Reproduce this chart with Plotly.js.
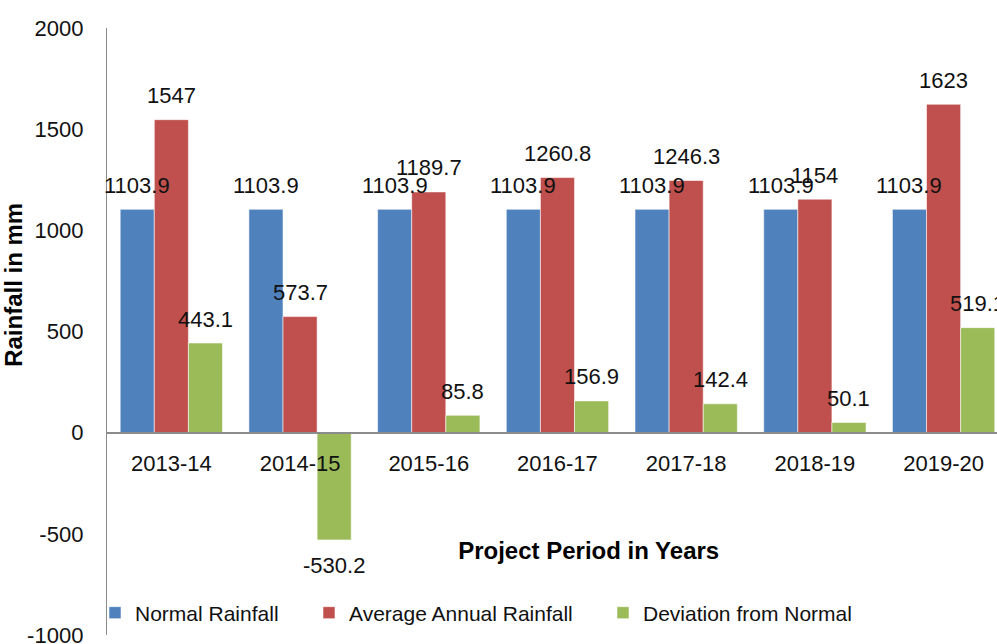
<!DOCTYPE html>
<html>
<head>
<meta charset="utf-8">
<script src="https://cdn.plot.ly/plotly-3.0.1.min.js"></script>
<style>html,body{margin:0;padding:0;background:#fff;}#chart{width:997px;height:644px;}</style>
</head>
<body>
<div id="chart"></div>
<script>
var categories = ["2013-14", "2014-15", "2015-16", "2016-17", "2017-18", "2018-19", "2019-20"];
var normalRainfall = [1103.9, 1103.9, 1103.9, 1103.9, 1103.9, 1103.9, 1103.9];
var averageAnnualRainfall = [1547, 573.7, 1189.7, 1260.8, 1246.3, 1154, 1623];
var deviationFromNormal = [443.1, -530.2, 85.8, 156.9, 142.4, 50.1, 519.1];
var seriesNames = ["Normal Rainfall", "Average Annual Rainfall", "Deviation from Normal"];
var yTicks = [-1000, -500, 0, 500, 1000, 1500, 2000];
var yTickLabels = ["-1000", "-500", "0", "500", "1000", "1500", "2000"];

var colors = ["#4F81BD", "#C0504D", "#9BBB59"];
var series = [normalRainfall, averageAnnualRainfall, deviationFromNormal];
var legends = ["legend", "legend2", "legend3"];
var FONT = "Liberation Sans, Arial, sans-serif";
var bargap = 0.205;
var barW = (1 - bargap) / 3;

var traces = series.map(function (vals, s) {
  return {
    type: "bar",
    name: seriesNames[s],
    x: categories,
    y: vals,
    legend: legends[s],
    marker: {color: colors[s], line: {color: "rgba(255,255,255,0.55)", width: 1}},
    hoverinfo: "x+y+name"
  };
});

var annotations = [];
series.forEach(function (vals, s) {
  vals.forEach(function (v, i) {
    annotations.push({
      xref: "x", yref: "y",
      x: i + (s - 1) * barW,
      y: v,
      text: String(v),
      showarrow: false,
      xanchor: "center", yanchor: "middle",
      yshift: v >= 0 ? 24 : -26,
      font: {family: FONT, size: 22, color: "#111"}
    });
  });
});

function legendAt(xpx) {
  return {
    orientation: "h",
    xref: "container", yref: "container",
    x: xpx / 997, y: 1 - 613 / 644,
    xanchor: "left", yanchor: "middle",
    bgcolor: "rgba(0,0,0,0)",
    font: {family: FONT, size: 21, color: "#111"}
  };
}

var padX = "&nbsp;".repeat(11);
var padY = "&nbsp;".repeat(14);

var layout = {
  width: 997, height: 644,
  margin: {l: 107, r: 0, t: 28, b: 9, pad: 0, autoexpand: false},
  paper_bgcolor: "#fff", plot_bgcolor: "#fff",
  barmode: "group", bargap: bargap, bargroupgap: 0,
  showlegend: true,
  font: {family: FONT, size: 22, color: "#111"},
  xaxis: {
    type: "category",
    range: [-0.5, 6.415],
    anchor: "free", position: 203 / 607,
    showline: true, linecolor: "#8c8c8c", linewidth: 1.5,
    ticks: "", showgrid: false, zeroline: false,
    ticklabelstandoff: 11,
    tickfont: {family: FONT, size: 22, color: "#111"},
    title: {text: padX + "<b>Project Period in Years</b>", standoff: 67,
            font: {family: FONT, size: 24, color: "#000"}}
  },
  yaxis: {
    range: [-1000, 2000],
    automargin: true,
    tickvals: yTicks, ticktext: yTickLabels,
    ticklabeloverflow: "allow",
    showline: true, linecolor: "#8c8c8c", linewidth: 1.2,
    ticks: "", showgrid: false, zeroline: false,
    ticklabelstandoff: 18,
    tickfont: {family: FONT, size: 22, color: "#111"},
    title: {text: padY + "<b>Rainfall in mm</b>", standoff: 0,
            font: {family: FONT, size: 24, color: "#000"}}
  },
  legend: legendAt(95),
  legend2: legendAt(309),
  legend3: legendAt(603),
  annotations: annotations
};

Plotly.newPlot("chart", traces, layout, {displayModeBar: false, staticPlot: true});
</script>
</body>
</html>
